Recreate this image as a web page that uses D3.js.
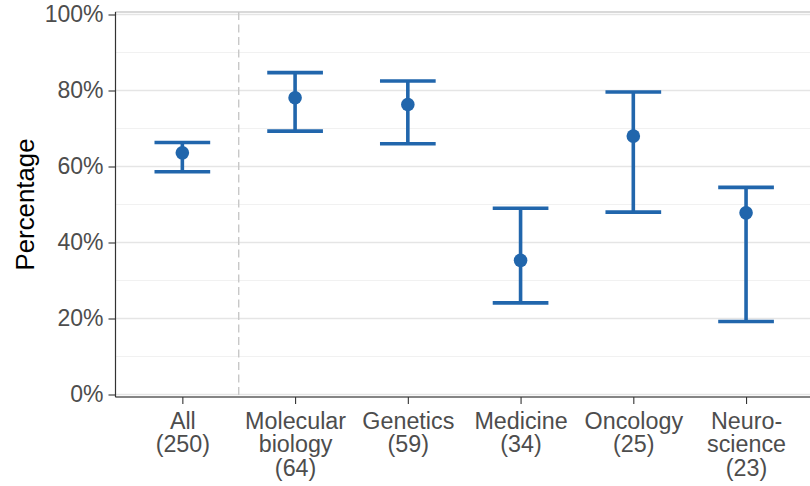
<!DOCTYPE html>
<html>
<head>
<meta charset="utf-8">
<script src="https://cdn.jsdelivr.net/npm/d3@7"></script>
<style>
  html, body { margin: 0; padding: 0; background: #fff; }
  svg { display: block; }
</style>
</head>
<body>
<svg id="chart" width="810" height="486"></svg>
<script>
// ---- data ----
const categories = ["All (250)", "Molecular biology (64)", "Genetics (59)", "Medicine (34)", "Oncology (25)", "Neuroscience (23)"];
const labelLines = [
  ["All", "(250)"],
  ["Molecular", "biology", "(64)"],
  ["Genetics", "(59)"],
  ["Medicine", "(34)"],
  ["Oncology", "(25)"],
  ["Neuro-", "science", "(23)"]
];
const estimates = [0.636, 0.781, 0.763, 0.353, 0.680, 0.478];
const lowerCI  = [0.586, 0.693, 0.660, 0.241, 0.480, 0.192];
const upperCI  = [0.663, 0.847, 0.825, 0.490, 0.796, 0.545];
const yTicks = [0, 0.2, 0.4, 0.6, 0.8, 1.0];
const yMinor = [0.1, 0.3, 0.5, 0.7, 0.9];
const separatorAt = 1.5;

// ---- layout ----
const svg = d3.select("#chart");
const panelTop = 12, panelBottom = 397, panelLeft = 115.5;
const x = d3.scaleLinear().domain([0.4, 6.6]).range([114.7, 813.7]);
const y = d3.scaleLinear().domain([0, 1]).range([394.5, 14.5]);
const blue = "#2166AC";
const font = "'Liberation Sans', Arial, sans-serif";

// panel background / border
svg.append("rect")
  .attr("x", panelLeft).attr("y", panelTop)
  .attr("width", 900).attr("height", panelBottom - panelTop)
  .attr("fill", "#fff").attr("stroke", "#b3b3b3").attr("stroke-width", 1);

// minor grid
svg.append("g").selectAll("line").data(yMinor).join("line")
  .attr("x1", panelLeft).attr("x2", 810)
  .attr("y1", d => y(d)).attr("y2", d => y(d))
  .attr("stroke", "#f1f1f1").attr("stroke-width", 1);
// major grid
svg.append("g").selectAll("line").data(yTicks).join("line")
  .attr("x1", panelLeft).attr("x2", 810)
  .attr("y1", d => y(d)).attr("y2", d => y(d))
  .attr("stroke", "#e5e5e5").attr("stroke-width", 1.3);

// dashed separator
svg.append("line")
  .attr("x1", x(separatorAt)).attr("x2", x(separatorAt))
  .attr("y1", panelTop).attr("y2", panelBottom)
  .attr("stroke", "#c8c8c8").attr("stroke-width", 1.4)
  .attr("stroke-dasharray", "8,4.5");

// axes
const yAxis = svg.append("g")
  .attr("transform", `translate(${panelLeft},0)`)
  .call(d3.axisLeft(y).tickValues(yTicks).tickFormat(d3.format(".0%")).tickSize(7).tickPadding(5));
const xAxis = svg.append("g")
  .attr("transform", `translate(0,${panelBottom})`)
  .call(d3.axisBottom(x).tickValues(d3.range(1, categories.length + 1)).tickFormat("").tickSize(7));

[yAxis, xAxis].forEach(g => {
  g.select(".domain").remove();
  g.selectAll(".tick line").attr("stroke", "#333").attr("stroke-width", 1.1);
});
yAxis.selectAll(".tick text")
  .attr("fill", "#4d4d4d").attr("font-family", font).attr("font-size", 23);

// axis lines
svg.append("line").attr("x1", panelLeft).attr("x2", panelLeft)
  .attr("y1", panelTop).attr("y2", panelBottom).attr("stroke", "#333").attr("stroke-width", 1.2);
svg.append("line").attr("x1", panelLeft).attr("x2", 810)
  .attr("y1", panelBottom).attr("y2", panelBottom).attr("stroke", "#333").attr("stroke-width", 1.2);

// x labels
xAxis.selectAll(".tick").each(function(d, i) {
  const t = d3.select(this).select("text")
    .attr("fill", "#4d4d4d").attr("font-family", font).attr("font-size", 23.3)
    .attr("text-anchor", "middle").attr("y", 0).attr("dy", null);
  labelLines[i].forEach((ln, k) => {
    t.append("tspan").attr("x", 0).attr("y", 32 + k * 23.3).text(ln);
  });
});

// y title
svg.append("text")
  .attr("transform", `translate(34,${(panelTop + panelBottom) / 2}) rotate(-90)`)
  .attr("text-anchor", "middle")
  .attr("font-family", font).attr("font-size", 25.8).attr("fill", "#000")
  .text("Percentage");

// error bars
const idx = d3.range(categories.length);
const capHalf = 0.247;
const bars = svg.append("g").selectAll("g").data(idx).join("g");
bars.append("line")
  .attr("x1", i => x(i + 1)).attr("x2", i => x(i + 1))
  .attr("y1", i => y(lowerCI[i])).attr("y2", i => y(upperCI[i]))
  .attr("stroke", blue).attr("stroke-width", 3.6);
bars.append("line")
  .attr("x1", i => x(i + 1 - capHalf)).attr("x2", i => x(i + 1 + capHalf))
  .attr("y1", i => y(upperCI[i])).attr("y2", i => y(upperCI[i]))
  .attr("stroke", blue).attr("stroke-width", 3.6);
bars.append("line")
  .attr("x1", i => x(i + 1 - capHalf)).attr("x2", i => x(i + 1 + capHalf))
  .attr("y1", i => y(lowerCI[i])).attr("y2", i => y(lowerCI[i]))
  .attr("stroke", blue).attr("stroke-width", 3.6);
bars.append("circle")
  .attr("cx", i => x(i + 1)).attr("cy", i => y(estimates[i]))
  .attr("r", 6.8).attr("fill", blue);
</script>
</body>
</html>
